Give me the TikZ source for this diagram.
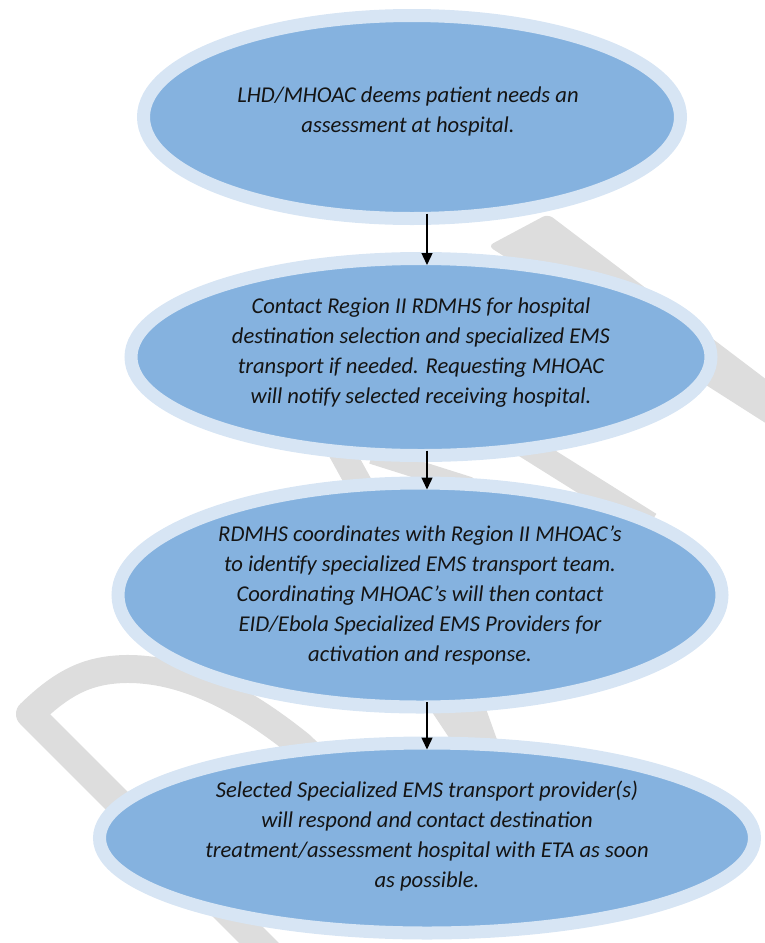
\documentclass[tikz,border=0pt]{standalone}
\usepackage{fontspec}
\setmainfont{Carlito}
\usetikzlibrary{arrows.meta,shapes.geometric,positioning}
\definecolor{RingBlue}{RGB}{215,229,244}
\definecolor{FillBlue}{RGB}{133,178,223}
\definecolor{DraftGray}{RGB}{221,221,221}
\definecolor{TextDark}{RGB}{20,20,20}

\begin{document}
\begin{tikzpicture}[x=1pt,y=-1pt,
    stage/.style={ellipse,draw=RingBlue,fill=FillBlue,line width=13pt,
                  outer sep=0pt,inner sep=0pt},
    steptext/.style={font=\fontsize{22.6}{30}\selectfont\itshape,align=center,
                     text=TextDark,inner sep=0pt},
    flow/.style={-{Triangle[length=12pt,width=11pt]},line width=1.4pt,black,
                 shorten <=-5pt,shorten >=-6.5pt},
    draftstroke/.style={draw=DraftGray,line width=28pt,line join=round},
    draftpatch/.style={fill=DraftGray,rounded corners=6pt}
  ]
  \clip (0,0) rectangle (765,943);
  % watermark pieces behind the chart
  \draw[draftstroke] (290,974) -- (30,714)
    .. controls (65,680) and (90,670) .. (125,669)
    .. controls (190,668) and (250,705) .. (300,745) -- (400,840);
  \fill[draftpatch] (488,246) -- (548,214) -- (800,405) -- (800,445) -- cycle;
  \draw[draftstroke,line width=24pt] (500,430) -- (650,524);
  \draw[draftstroke,line width=26pt] (335,440) -- (368,500);
  \draw[draftstroke,line width=18pt] (372,455) -- (470,486);
  \fill[draftpatch] (428,706) -- (485,706) -- (500,748) -- (456,748) -- cycle;
  % the four stages
  \node[stage,minimum width=537pt,minimum height=203pt] (e1) at (412,117) {};
  \node[stage,minimum width=580pt,minimum height=197pt] (e2) at (421,357) {};
  \node[stage,minimum width=604pt,minimum height=224pt] (e3) at (420,595) {};
  \node[stage,minimum width=655pt,minimum height=190pt] (e4) at (427,838) {};
  \coordinate (axis) at (427,0);
  \draw[flow] (e1.south -| axis) -- (e2.north -| axis);
  \draw[flow] (e2.south -| axis) -- (e3.north -| axis);
  \draw[flow] (e3.south -| axis) -- (e4.north -| axis);
  \node[steptext] (t1) at (408,111) {LHD/MHOAC deems patient needs an\\
    assessment at hospital.};
  \node[steptext] (t2) at (421,353) {Contact Region II RDMHS for hospital\\
    destination selection and specialized EMS\\
    transport if needed. Requesting MHOAC\\
    will notify selected receiving hospital.};
  \node[steptext] (t3) at (420,595) {RDMHS coordinates with Region II MHOAC’s\\
    to identify specialized EMS transport team.\\
    Coordinating MHOAC’s will then contact\\
    EID/Ebola Specialized EMS Providers for\\
    activation and response.};
  \node[steptext] (t4) at (427,836) {Selected Specialized EMS transport provider(s)\\
    will respond and contact destination\\
    treatment/assessment hospital with ETA as soon\\
    as possible.};
\end{tikzpicture}
\end{document}
